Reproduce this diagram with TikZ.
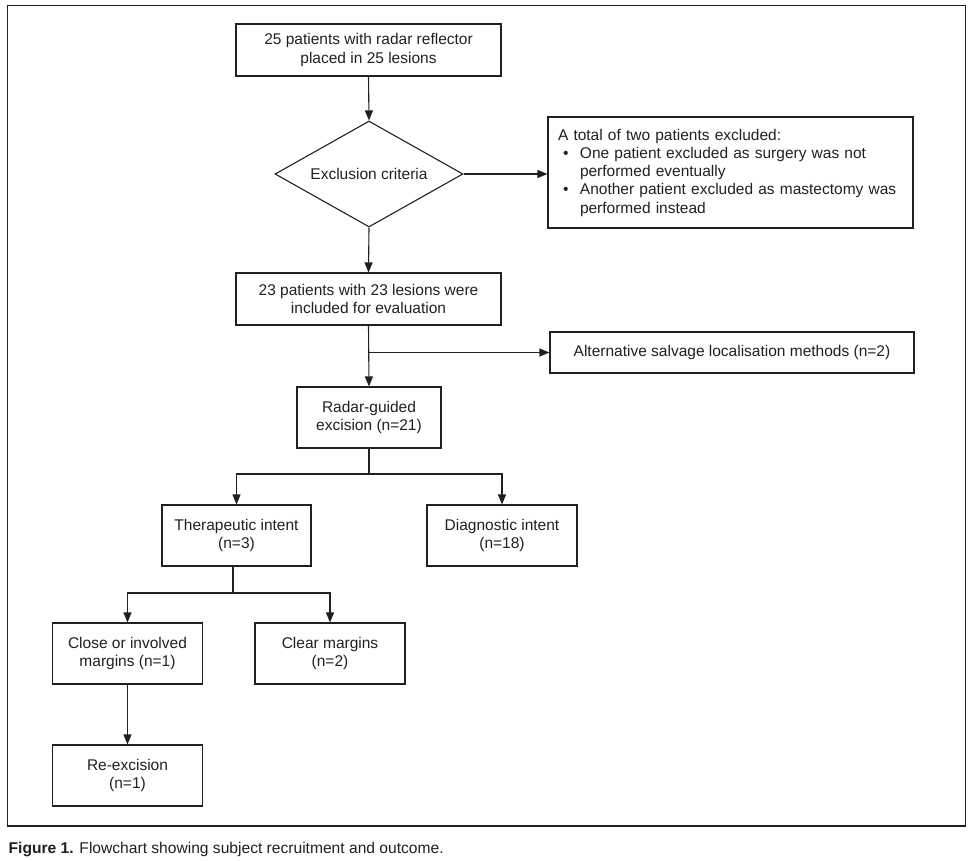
\documentclass[tikz,border=0pt]{standalone}
\usepackage{fontspec}
\setmainfont{Liberation Sans}
\usetikzlibrary{arrows.meta,shapes.geometric}
\definecolor{ink}{RGB}{35,31,32}
\begin{document}
\begin{tikzpicture}[x=1pt,y=-1pt,
  box/.style={draw=ink,line width=1.1pt,inner sep=0pt,align=center,text=ink,
    font=\fontsize{15.5}{18.25}\selectfont},
  arr/.style={draw=ink,line width=1.1pt,-{Triangle[length=10pt,width=8pt]}},
  ln/.style={draw=ink,line width=1.1pt}]
\useasboundingbox (0,0) rectangle (974,860);
\draw[ln] (7.5,5.5) rectangle (965.5,826);
\node[box,minimum width=265pt,minimum height=52pt] (b1) at (368.5,50)
  {25 patients with radar reflector\\placed in 25 lesions};
\node[box,shape=diamond,aspect=1.77,minimum width=188pt,minimum height=106pt] (dia) at (369,174)
  {Exclusion criteria};
\node[box,minimum width=365pt,minimum height=111pt,text width=345pt,inner xsep=10pt,align=left] (excl) at (730.5,172.5)
  {A total of two patients excluded:\\
   \makebox[22pt][l]{\hspace{5pt}\textbullet}One patient excluded as surgery was not\\
   \makebox[22pt]{}performed eventually\\
   \makebox[22pt][l]{\hspace{5pt}\textbullet}Another patient excluded as mastectomy was\\
   \makebox[22pt]{}performed instead};
\node[box,minimum width=265pt,minimum height=52pt] (b2) at (368.5,299)
  {23 patients with 23 lesions were\\included for evaluation};
\node[box,minimum width=364pt,minimum height=41pt] (alt) at (732,352.5)
  {Alternative salvage localisation methods (n=2)};
\node[box,minimum width=144pt,minimum height=61pt] (b3) at (369,417.5)
  {Radar-guided\\excision (n=21)};
\node[box,minimum width=149pt,minimum height=61pt] (ther) at (236.5,535.5)
  {Therapeutic intent\\(n=3)};
\node[box,minimum width=150pt,minimum height=61pt] (diag) at (502,535.5)
  {Diagnostic intent\\(n=18)};
\node[box,minimum width=150pt,minimum height=61pt] (close) at (127.5,653.5)
  {Close or involved\\margins (n=1)};
\node[box,minimum width=150pt,minimum height=61pt] (clear) at (330,653.5)
  {Clear margins\\(n=2)};
\node[box,minimum width=150pt,minimum height=61pt] (reex) at (127.5,775.5)
  {Re-excision\\(n=1)};
\node[anchor=base west,inner sep=0pt,text=ink,font=\fontsize{15.6}{18}\selectfont] (cap) at (8.5,853)
  {\textbf{Figure 1.} Flowchart showing subject recruitment and outcome.};
% connectors
\draw[arr] (b1.south) -- (dia.north);
\draw[arr] (dia.east) -- (dia.east -| excl.west);
\draw[arr] (dia.south) -- (b2.north);
\draw[arr] (b2.south) -- (b3.north);
\coordinate (j1) at (369,352.5);
\draw[arr] (j1) -- (alt.west);
\coordinate (j2) at (369,474);
\draw[ln] (b3.south) -- (j2);
\draw[arr] (j2) -| (ther.north);
\draw[arr] (j2) -| (diag.north);
\coordinate (j3) at (233,593);
\draw[ln] (j3 |- ther.south) -- (j3);
\draw[arr] (j3) -| (close.north);
\draw[arr] (j3) -| (clear.north);
\draw[arr] (close.south) -- (reex.north);
\end{tikzpicture}
\end{document}
